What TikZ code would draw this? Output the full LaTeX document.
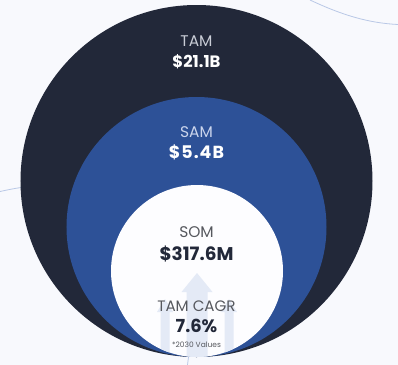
\documentclass[tikz,border=0pt]{standalone}
\usepackage{fontspec}
\setmainfont{Poppins}
\definecolor{bgc}{HTML}{F8F9FD}
\definecolor{tamc}{HTML}{222839}
\definecolor{samc}{HTML}{2D5197}
\definecolor{somc}{HTML}{FDFDFF}
\definecolor{arrc}{HTML}{E4EAF6}
\definecolor{decoc}{HTML}{B9C8E6}
\definecolor{lbl1}{HTML}{C9CDD6}
\definecolor{lbl2}{HTML}{CBD5EC}
\definecolor{lbl3}{HTML}{56585E}
\definecolor{darkt}{HTML}{222839}
\tikzset{
  ring/.style={circle, inner sep=0pt, outer sep=0pt, draw=none},
  txt/.style={anchor=base, inner sep=0pt, outer sep=0pt},
  deco/.style={draw=decoc, line width=0.8bp},
}
\begin{document}
\begin{tikzpicture}[x=1bp,y=-1bp]
\fill[bgc] (0,0) rectangle (398,365);
\useasboundingbox (0,0) rectangle (398,365);
% background decoration
\coordinate (d1) at (310,0);
\coordinate (d2) at (398,24.5);
\coordinate (d3) at (0,191.5);
\coordinate (d4) at (21,187.5);
\coordinate (d5) at (188.5,357);
\coordinate (d6) at (187.5,365);
\draw[deco] (d1) .. controls (342,15) and (368,23) .. (d2);
\draw[deco] (d3) .. controls (7,190) and (14,188.5) .. (d4);
\draw[deco] (d5) -- (d6);
% circles
\node[ring, fill=tamc, minimum size=352bp] (tam) at (196.5,181) {};
\node[ring, fill=samc, minimum size=260bp] (sam) at (196.5,227) {};
\node[ring, fill=somc, minimum size=172bp] (som) at (197,271) {};
% faint arrows inside SOM
\begin{scope}
\clip (som.center) circle[radius=86];
\fill[arrc] (186.5,360) -- (186.5,292) -- (181.5,292) -- (197,273) -- (212.5,292) -- (207.5,292) -- (207.5,360) -- cycle;
\fill[arrc] (160.5,360) -- (160.5,312) -- (157,312) -- (165,299) -- (173,312) -- (169.5,312) -- (169.5,360) -- cycle;
\fill[arrc] (224.5,360) -- (224.5,312) -- (221,312) -- (229,299) -- (237,312) -- (233.5,312) -- (233.5,360) -- cycle;
\end{scope}
% texts
\node[txt, text=lbl1, font=\fontsize{15.5}{18}\selectfont] (t1) at (196.5,46) {TAM};
\node[txt, text=white, font=\fontsize{16.5}{20}\selectfont\bfseries] (t2) at (196.5,67.3) {\$21.1B};
\node[txt, text=lbl2, font=\fontsize{15.5}{18}\selectfont] (s1) at (196.5,137.3) {SAM};
\node[txt, text=white, font=\fontsize{17.5}{20}\selectfont\bfseries] (s2) at (196.5,158.3) {\addfontfeature{LetterSpace=6}\$5.4B};
\node[txt, text=lbl3, font=\fontsize{15.5}{18}\selectfont] (o1) at (196.5,237) {SOM};
\node[txt, text=darkt, font=\fontsize{18.5}{22}\selectfont\bfseries] (o2) at (196.5,260.3) {\$317.6M};
\node[txt, text=lbl3, font=\fontsize{15.2}{18}\selectfont] (c1) at (196.5,311) {TAM CAGR};
\node[txt, text=darkt, font=\fontsize{18}{22}\selectfont\bfseries] (c2) at (196.5,332) {7.6\%};
\node[txt, text=lbl3, font=\fontsize{7.5}{9}\selectfont] (c3) at (196.5,347) {*2030 Values};
\end{tikzpicture}
\end{document}
